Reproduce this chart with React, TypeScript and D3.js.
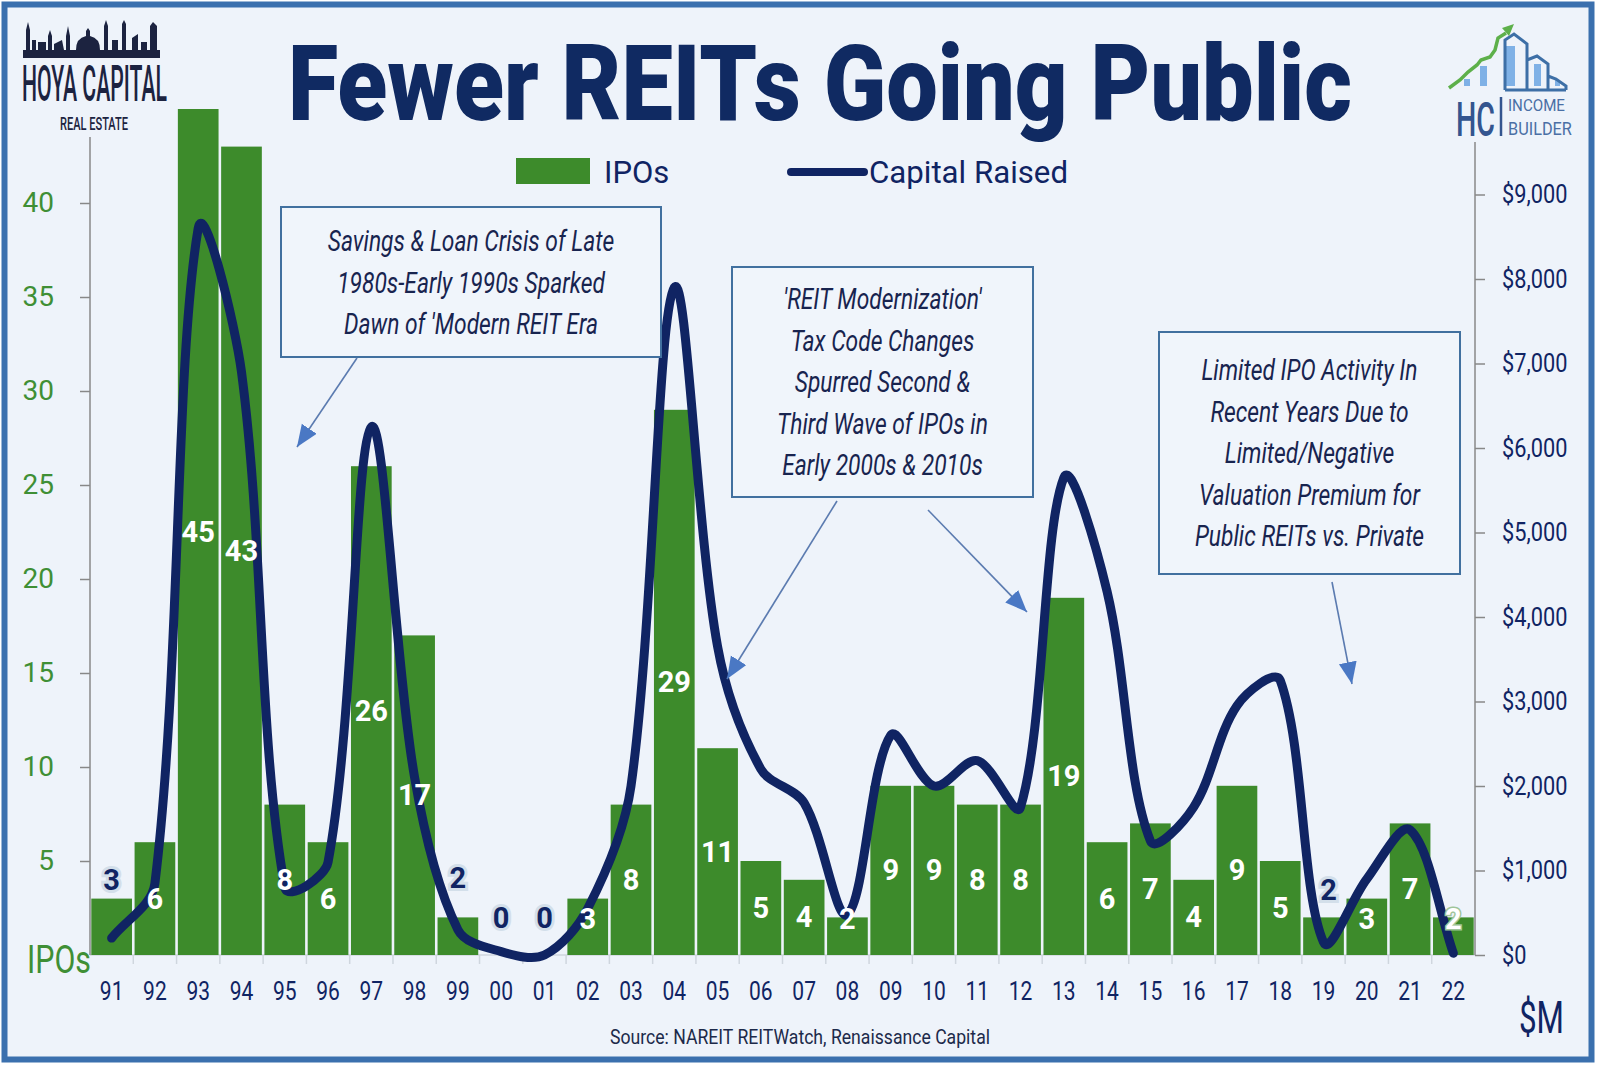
import React, { useEffect, useRef } from "react";
import * as d3 from "d3";

// Calendar years (two-digit) on the category axis
const years = [
    "91", "92", "93", "94", "95", "96", "97", "98", "99", "00", "01",
    "02", "03", "04", "05", "06", "07", "08", "09", "10", "11", "12",
    "13", "14", "15", "16", "17", "18", "19", "20", "21", "22",
];

// Number of REIT IPOs per year (bars, left axis)
const ipoCounts = [
    3, 6, 45, 43, 8, 6, 26, 17, 2, 0, 0,
    3, 8, 29, 11, 5, 4, 2, 9, 9, 8, 8,
    19, 6, 7, 4, 9, 5, 2, 3, 7, 2,
];

// Capital raised in $M (smoothed line, right axis)
const capitalRaised = [
    200, 850, 8600, 6900, 800, 1100, 6250, 2100, 300, 40, 0,
    550, 2000, 7900, 3650, 2200, 1800, 480, 2600, 2000, 2300, 1750,
    5650, 4300, 1350, 1750, 2950, 3250, 150, 900, 1480, 20,
];

const ipoTicks = [5, 10, 15, 20, 25, 30, 35, 40];
const capitalTicks = [0, 1000, 2000, 3000, 4000, 5000, 6000, 7000, 8000, 9000];

const noteSavings = [
    "Savings & Loan Crisis of Late",
    "1980s-Early 1990s Sparked",
    "Dawn of 'Modern REIT Era",
];
const noteModern = [
    "'REIT Modernization'",
    "Tax Code Changes",
    "Spurred Second &",
    "Third Wave of IPOs in",
    "Early 2000s & 2010s",
];
const noteRecent = [
    "Limited IPO Activity In",
    "Recent Years Due to",
    "Limited/Negative",
    "Valuation Premium for",
    "Public REITs vs. Private",
];

const GREEN = "#3d8b2b";
const NAVY = "#102463";
const FONT = "Roboto, 'Open Sans', sans-serif";

// squeeze text horizontally (the original uses a condensed face)
function squeeze(sel: d3.Selection<any, any, any, any>, k: number) {
    sel.each(function () {
        const n = this as SVGTextElement;
        const w = n.getComputedTextLength();
        n.setAttribute("textLength", String(w * k));
        n.setAttribute("lengthAdjust", "spacingAndGlyphs");
    });
}

function fit(sel: d3.Selection<any, any, any, any>, w: number) {
    sel.attr("textLength", w).attr("lengthAdjust", "spacingAndGlyphs");
}

// scale a text (drawn at 0,0) so it spans w pixels starting at x
function place(sel: d3.Selection<any, any, any, any>, x: number, y: number, w: number) {
    const n = sel.node() as SVGTextElement;
    const k = w / n.getComputedTextLength();
    sel.attr("transform", `translate(${x},${y}) scale(${k},1)`);
}

// Excel-like smoothed line: Catmull-Rom tangents, arms scaled by chord length
function smoothPath(pts: [number, number][]) {
    const p = d3.path();
    const dist = (a: [number, number], b: [number, number]) => Math.hypot(b[0] - a[0], b[1] - a[1]);
    const ctrl = (prev: [number, number], cur: [number, number], next: [number, number], out: boolean) => {
        const dp = dist(prev, cur);
        const dn = dist(cur, next);
        const w = (out ? dn : dp) / (dp + dn || 1);
        const s = out ? 1 : -1;
        return [cur[0] + (s * (next[0] - prev[0]) * w) / 3, cur[1] + (s * (next[1] - prev[1]) * w) / 3];
    };
    p.moveTo(pts[0][0], pts[0][1]);
    for (let i = 0; i < pts.length - 1; i++) {
        const p0 = pts[i - 1] ?? pts[i];
        const p1 = pts[i];
        const p2 = pts[i + 1];
        const p3 = pts[i + 2] ?? pts[i + 1];
        const c1 = ctrl(p0, p1, p2, true);
        const c2 = ctrl(p1, p2, p3, false);
        p.bezierCurveTo(c1[0], c1[1], c2[0], c2[1], p2[0], p2[1]);
    }
    return p.toString();
}

const FewerReitsChart: React.FC = () => {
    const svgRef = useRef<SVGSVGElement | null>(null);

    useEffect(() => {
        const width = 1600;
        const height = 1065;
        const left = 90;
        const right = 1475;
        const base = 955;

        d3.select(svgRef.current).selectAll("*").remove();

        const svg = d3
            .select(svgRef.current)
            .attr("width", width)
            .attr("height", height)
            .style("font-family", FONT);

        // frame + background
        svg.append("rect")
            .attr("x", 4.5)
            .attr("y", 4.5)
            .attr("width", 1587)
            .attr("height", 1055)
            .attr("fill", "#eef3fa")
            .attr("stroke", "#3b70ae")
            .attr("stroke-width", 6);

        // scales
        const x = d3.scaleBand().domain(years).range([left, right]).paddingInner(0.06).paddingOuter(0.03);
        const yL = d3.scaleLinear().domain([0, 45]).range([base, 109]);
        const yR = d3.scaleLinear().domain([0, 10000]).range([base, 110]);

        // category axis baseline + boundary ticks
        svg.append("line")
            .attr("x1", left).attr("x2", right)
            .attr("y1", base).attr("y2", base)
            .attr("stroke", "#cfd6de").attr("stroke-width", 1.5);
        const half = (x.step() - x.bandwidth()) / 2;
        svg.append("g")
            .selectAll("line")
            .data(years.slice(1))
            .enter()
            .append("line")
            .attr("x1", (d) => x(d)! - half)
            .attr("x2", (d) => x(d)! - half)
            .attr("y1", base)
            .attr("y2", base + 9)
            .attr("stroke", "#cfd6de")
            .attr("stroke-width", 1.5);

        // bars
        svg.append("g")
            .selectAll("rect")
            .data(ipoCounts)
            .enter()
            .append("rect")
            .attr("x", (d, i) => x(years[i])!)
            .attr("y", (d) => yL(d))
            .attr("width", x.bandwidth())
            .attr("height", (d) => base - yL(d))
            .attr("fill", GREEN);

        // capital raised line
        const pts = capitalRaised.map(
            (d, i) => [x(years[i])! + x.bandwidth() / 2, yR(d)] as [number, number]
        );
        svg.append("path")
            .attr("d", smoothPath(pts))
            .attr("fill", "none")
            .attr("stroke", NAVY)
            .attr("stroke-width", 9)
            .attr("stroke-linecap", "round")
            .attr("stroke-linejoin", "round");

        // data labels (a few were nudged above the bar in dark type)
        const lift: Record<number, number> = { 0: 19, 8: 39, 9: 37, 10: 37, 28: 27 };
        svg.append("g")
            .selectAll("text")
            .data(ipoCounts)
            .enter()
            .append("text")
            .attr("x", (d, i) => x(years[i])! + x.bandwidth() / 2 + (i === 28 ? 5 : 0))
            .attr("y", (d, i) =>
                lift[i] !== undefined ? yL(d) - lift[i] : Math.min(yL(d / 2), 919)
            )
            .attr("dominant-baseline", "central")
            .attr("text-anchor", "middle")
            .style("font-size", "29px")
            .style("font-weight", 700)
            .attr("fill", (d, i) => (lift[i] !== undefined ? NAVY : "#ffffff"))
            .attr("stroke", (d, i) => (lift[i] !== undefined ? "#d3dfea" : i === 31 ? "#9fc59a" : "none"))
            .attr("stroke-width", (d, i) => (i === 31 ? 3 : 6))
            .attr("paint-order", "stroke")
            .text((d) => d);

        // left axis
        const gL = svg
            .append("g")
            .attr("transform", `translate(${left},0)`)
            .call(d3.axisLeft(yL).tickValues(ipoTicks).tickSize(10).tickPadding(26));
        gL.select(".domain").remove();
        gL.selectAll(".tick line").attr("stroke", "#888").attr("stroke-width", 1.5);
        gL.selectAll(".tick text")
            .attr("fill", "#3f8f35")
            .style("font-size", "28px")
            .style("font-family", FONT);
        svg.append("line")
            .attr("x1", left).attr("x2", left)
            .attr("y1", 137).attr("y2", base)
            .attr("stroke", "#888").attr("stroke-width", 1.5);

        // right axis
        const gR = svg
            .append("g")
            .attr("transform", `translate(${right},0)`)
            .call(
                d3
                    .axisRight(yR)
                    .tickValues(capitalTicks)
                    .tickSize(10)
                    .tickPadding(17)
                    .tickFormat((d) => "$" + d3.format(",")(d as number))
            );
        gR.select(".domain").remove();
        gR.selectAll(".tick line").attr("stroke", "#888").attr("stroke-width", 1.5);
        const rText = gR
            .selectAll(".tick text")
            .attr("fill", NAVY)
            .style("font-size", "25px")
            .style("font-family", FONT);
        squeeze(rText as any, 0.87);
        svg.append("line")
            .attr("x1", right).attr("x2", right)
            .attr("y1", 142).attr("y2", base)
            .attr("stroke", "#888").attr("stroke-width", 1.5);

        // bottom labels
        const gB = svg
            .append("g")
            .attr("transform", `translate(0,${base})`)
            .call(d3.axisBottom(x).tickSize(0).tickPadding(27));
        gB.select(".domain").remove();
        const bText = gB
            .selectAll(".tick text")
            .attr("fill", NAVY)
            .style("font-size", "25px")
            .style("font-family", FONT);
        squeeze(bText as any, 0.84);

        // axis unit labels
        fit(
            svg.append("text").attr("x", 27).attr("y", 973)
                .attr("fill", "#3f8f35").style("font-size", "38px").text("IPOs"),
            64
        );
        fit(
            svg.append("text").attr("x", 1519).attr("y", 1033)
                .attr("fill", NAVY).style("font-size", "44px").text("$M"),
            45
        );

        // source
        fit(
            svg.append("text").attr("x", 800).attr("y", 1044)
                .attr("text-anchor", "middle").attr("fill", "#1c2a4a")
                .style("font-size", "21px").text("Source: NAREIT REITWatch, Renaissance Capital"),
            380
        );

        // title
        fit(
            svg.append("text").attr("x", 288).attr("y", 120)
                .attr("fill", "#102a62").style("font-size", "105px")
                .style("font-weight", 900).text("Fewer REITs Going Public"),
            1064
        );

        // legend
        svg.append("rect").attr("x", 516).attr("y", 158).attr("width", 74).attr("height", 26).attr("fill", GREEN);
        svg.append("text").attr("x", 604).attr("y", 183).attr("fill", NAVY)
            .style("font-size", "31px").text("IPOs");
        svg.append("line").attr("x1", 791).attr("x2", 864).attr("y1", 172).attr("y2", 172)
            .attr("stroke", NAVY).attr("stroke-width", 8).attr("stroke-linecap", "round");
        fit(
            svg.append("text").attr("x", 869).attr("y", 183).attr("fill", NAVY)
                .style("font-size", "31px").text("Capital Raised"),
            199
        );

        // annotation boxes
        const defs = svg.append("defs");
        defs.append("marker")
            .attr("id", "arrowHead")
            .attr("markerUnits", "userSpaceOnUse")
            .attr("markerWidth", 24)
            .attr("markerHeight", 20)
            .attr("refX", 22)
            .attr("refY", 9)
            .attr("orient", "auto")
            .append("path")
            .attr("d", "M0,0 L22,9 L0,18 Z")
            .attr("fill", "#4a78c4");

        const boxes = [
            { lines: noteSavings, x: 281, y: 207, w: 380, h: 150, first: 251 },
            { lines: noteModern, x: 732, y: 267, w: 301, h: 230, first: 309 },
            { lines: noteRecent, x: 1159, y: 332, w: 301, h: 242, first: 380 },
        ];
        boxes.forEach((b) => {
            svg.append("rect")
                .attr("x", b.x).attr("y", b.y).attr("width", b.w).attr("height", b.h)
                .attr("fill", "#f0f5fb").attr("stroke", "#41709f").attr("stroke-width", 2);
            const t = svg.append("g")
                .selectAll("text")
                .data(b.lines)
                .enter()
                .append("text")
                .attr("x", b.x + b.w / 2)
                .attr("y", (d, i) => b.first + i * 41.5)
                .attr("text-anchor", "middle")
                .attr("fill", "#18244f")
                .style("font-size", "30px")
                .style("font-style", "italic")
                .text((d) => d);
            squeeze(t as any, 0.76);
        });

        const arrows = [
            [357, 358, 297, 447],
            [837, 501, 727, 679],
            [928, 510, 1027, 612],
            [1332, 582, 1352, 684],
        ];
        arrows.forEach((a) => {
            svg.append("line")
                .attr("x1", a[0]).attr("y1", a[1]).attr("x2", a[2]).attr("y2", a[3])
                .attr("stroke", "#5b7bb0").attr("stroke-width", 1.6)
                .attr("marker-end", "url(#arrowHead)");
        });

        // Hoya Capital logo (top left)
        const logo = svg.append("g").attr("fill", "#1c2340");
        logo.append("rect").attr("x", 23).attr("y", 50).attr("width", 137).attr("height", 8);
        logo.append("path").attr(
            "d",
            "M26,50 L26,30 L28,22 L30,30 L30,50 Z M32,50 L32,40 L36,40 L36,50 Z " +
            "M38,50 L38,42 L46,42 L46,50 Z M48,50 L48,36 L50,30 L52,36 L52,50 Z M54,50 L54,44 L62,40 L64,50 Z " +
            "M66,50 L66,36 L68,26 L70,36 L70,50 Z " +
            "M76,50 Q76,38 86,36 L86,31 L88,28 L90,31 L90,36 Q100,38 100,50 Z " +
            "M104,50 L104,26 L106,20 L108,26 L108,50 Z M112,50 L112,40 L118,40 L118,50 Z " +
            "M122,50 L122,24 L124,20 L126,24 L126,50 Z M132,50 L132,38 L138,34 L138,50 Z " +
            "M141,50 L141,42 L147,42 L147,50 Z M150,50 L150,26 L153,22 L157,26 L157,50 Z"
        );
        place(
            logo.append("text").style("font-size", "50px").style("font-weight", 500).text("HOYA CAPITAL"),
            22, 101, 145
        );
        place(
            logo.append("text").style("font-size", "19px").style("font-weight", 500).text("REAL ESTATE"),
            60, 130, 68
        );

        // HC Income Builder logo (top right)
        const hc = svg.append("g");
        hc.selectAll("rect.fill")
            .data([[1464, 79, 6, 7], [1480, 66, 7, 20], [1506, 46, 9, 40], [1534, 64, 7, 22], [1555, 80, 5, 6]])
            .enter()
            .append("rect")
            .attr("x", (d) => d[0]).attr("y", (d) => d[1]).attr("width", (d) => d[2]).attr("height", (d) => d[3])
            .attr("fill", "#7fb1e6");
        hc.append("path")
            .attr("d", "M1505,90 L1505,40 L1514,34 L1527,44 L1527,90 M1527,60 L1537,56 L1548,64 L1548,90 M1548,76 L1556,79 L1566,86 L1566,90 M1505,90 L1566,90")
            .attr("fill", "none").attr("stroke", "#3d6fa6").attr("stroke-width", 3);
        hc.append("path")
            .attr("d", "M1449,88 L1460,80 L1468,72 L1477,65 L1481,60 L1490,57 L1495,50 L1498,38 L1506,33")
            .attr("fill", "none").attr("stroke", "#5db04a").attr("stroke-width", 3.5);
        hc.append("path").attr("d", "M1502,28 L1514,24 L1509,36 Z").attr("fill", "#5db04a");
        place(
            hc.append("text").attr("fill", "#34558f").style("font-size", "48px").style("font-weight", 500).text("HC"),
            1456, 136, 39
        );
        hc.append("line").attr("x1", 1501).attr("x2", 1501).attr("y1", 97).attr("y2", 136)
            .attr("stroke", "#34558f").attr("stroke-width", 2.5);
        place(
            hc.append("text").attr("fill", "#4a6fa5").style("font-size", "17px").text("INCOME"),
            1508, 111, 57
        );
        place(
            hc.append("text").attr("fill", "#4a6fa5").style("font-size", "18px").text("BUILDER"),
            1508, 135, 64
        );
    }, []);

    return <svg ref={svgRef} style={{ display: "block" }} />;
};

export default function App() {
    return (
        <div style={{ position: "absolute", left: 0, top: 0 }}>
            <FewerReitsChart />
        </div>
    );
}
